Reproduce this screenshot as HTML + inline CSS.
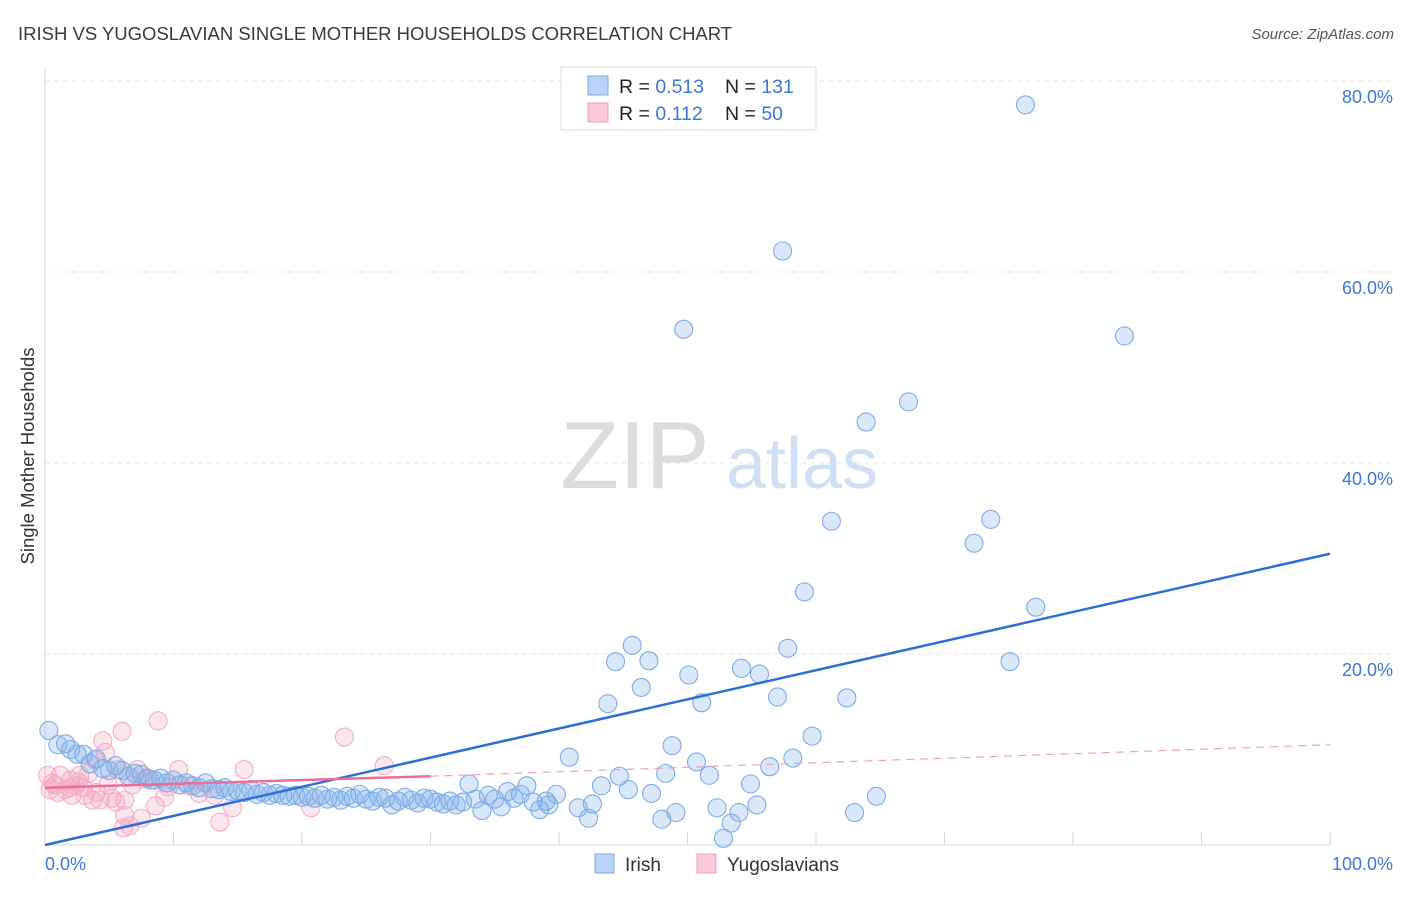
<!DOCTYPE html>
<html><head><meta charset="utf-8"><style>
body{margin:0;background:#fff;font-family:"Liberation Sans",sans-serif;}
svg text{font-family:"Liberation Sans",sans-serif;}
</style></head><body>
<svg width="1406" height="892" xmlns="http://www.w3.org/2000/svg">
<text x="18" y="40" font-size="18.5" fill="#3a3a3a">IRISH VS YUGOSLAVIAN SINGLE MOTHER HOUSEHOLDS CORRELATION CHART</text>
<text x="1394" y="39" font-size="15" fill="#555" text-anchor="end" font-style="italic">Source: ZipAtlas.com</text>
<g id="grid"></g>
<g>
<text x="635" y="488" font-size="96" fill="#dcdcdc" text-anchor="middle" font-family="Liberation Serif">ZIP</text>
<text x="802" y="488" font-size="72" fill="#cfe0f4" text-anchor="middle">atlas</text>
</g>
<g id="pts"></g>
<g id="lines"></g>
<text transform="translate(34,456) rotate(-90)" font-size="18.5" fill="#333" text-anchor="middle">Single Mother Households</text>
<text x="45" y="870" font-size="18" fill="#3b78d8">0.0%</text>
<text x="1393" y="870" font-size="18" fill="#3b78d8" text-anchor="end">100.0%</text>
<g>
<rect x="561" y="67" width="255" height="63" fill="#fff" stroke="#ddd"/>
<rect x="588" y="76" width="20" height="19" fill="#b8d3f5" stroke="#7aa8e0"/>
<rect x="588" y="103" width="20" height="19" fill="#fbc9d8" stroke="#f0a0b8"/>
<text x="619" y="93" font-size="19.5" fill="#222">R = <tspan fill="#3b78d8">0.513</tspan></text>
<text x="725" y="93" font-size="19.5" fill="#222">N = <tspan fill="#3b78d8">131</tspan></text>
<text x="619" y="120" font-size="19.5" fill="#222">R = <tspan fill="#3b78d8"> 0.112</tspan></text>
<text x="725" y="120" font-size="19.5" fill="#222">N = <tspan fill="#3b78d8"> 50</tspan></text>
</g>
<g>
<rect x="595" y="854" width="19" height="19" fill="#b8d3f5" stroke="#7aa8e0"/>
<text x="625" y="871" font-size="19" fill="#333">Irish</text>
<rect x="697" y="854" width="19" height="19" fill="#fbc9d8" stroke="#f0a0b8"/>
<text x="727" y="871" font-size="19" fill="#333">Yugoslavians</text>
</g>
</svg>
<script>
const yTicks=[20,40,60,80];
const yTickLabels=["20.0%","40.0%","60.0%","80.0%"];
const xTicks=[0,10,20,30,40,50,60,70,80,90,100];
const irish=[[76.3,77.5],[57.4,62.2],[49.7,54.0],[84.0,53.3],[67.2,46.4],[63.9,44.3],[61.2,33.9],[73.6,34.1],[72.3,31.6],[59.1,26.5],[77.1,24.9],[45.7,20.9],[44.4,19.2],[47.0,19.3],[57.8,20.6],[75.1,19.2],[54.2,18.5],[50.1,17.8],[55.6,17.9],[46.4,16.5],[57.0,15.5],[62.4,15.4],[43.8,14.8],[51.1,14.9],[59.7,11.4],[48.8,10.4],[40.8,9.2],[58.2,9.1],[50.7,8.7],[56.4,8.2],[48.3,7.5],[51.7,7.3],[44.7,7.2],[54.9,6.4],[43.3,6.2],[45.4,5.8],[64.7,5.1],[47.2,5.4],[52.3,3.9],[55.4,4.2],[54.0,3.4],[49.1,3.4],[63.0,3.4],[48.0,2.7],[53.4,2.3],[52.8,0.7],[42.3,2.8],[41.5,3.9],[42.6,4.3],[39.8,5.3],[39.2,4.2],
[0.3,12],[1,10.5],[1.6,10.6],[2,10],[2.5,9.5],[3,9.5],[3.5,8.5],[4,9],[4.5,8],[5,7.8],[5.5,8.3],[6,7.8],[6.5,7.2],[7,7.5],[7.5,7.4],[8,7],[8.5,6.8],[9,7],[9.5,6.5],[10,6.8],[10.5,6.3],[11,6.5],[11.5,6.2],[12,6],[12.5,6.5],[13,5.9],[13.5,5.8],[14,6],[14.5,5.6],[15,5.7],[15.5,5.5],[16,5.8],[16.5,5.3],[17,5.5],[17.5,5.2],[18,5.4],[18.5,5.2],[19,5.1],[19.5,5.2],[20,5],[20.5,5.1],[21,4.9],[21.5,5.2],[22,4.8],[22.5,5],[23,4.7],[23.5,5.1],[24,4.9],[24.5,5.3],[25,4.8],[25.5,4.6],[26,5],[26.5,4.9],[27,4.2],[27.5,4.6],[28,5],[28.5,4.7],[29,4.4],[29.5,4.9],[30,4.8],[30.5,4.5],[31,4.3],[31.5,4.6],[32,4.2],[32.5,4.5],[33,6.4],[33.5,4.8],[34,3.6],[34.5,5.2],[35,4.8],[35.5,4],[36,5.6],[36.5,4.9],[37,5.3],[37.5,6.2],[38,4.5],[38.5,3.7],[39,4.6]];
const yugo=[[0.2,7.3],[0.4,5.8],[0.8,6.3],[1.2,7.3],[1.6,5.8],[2,6.8],[2.1,5.2],[2.6,6.6],[2.7,7.3],[3.1,5.2],[3.4,7.5],[3.7,4.7],[3.9,8.9],[4.3,4.7],[4.5,10.9],[4.7,9.7],[4.9,6.3],[5.2,4.9],[5.7,7.9],[6,11.9],[6.2,4.7],[6.2,3.1],[6.1,1.8],[6.6,2.0],[6.8,6.3],[7.2,7.9],[7.5,2.8],[8.2,6.8],[8.6,4.1],[8.8,13],[9.3,5.0],[9.6,6.1],[10.4,7.9],[12,5.4],[13.2,5.2],[13.6,2.4],[14.6,3.9],[15.5,7.9],[20.7,3.9],[23.3,11.3],[26.4,8.3],[1.0,5.5],[1.9,6.0],[3.0,6.0],[4.0,5.5],[5.5,4.5],[0.6,6.5],[2.4,6.2],[7.8,6.9],[11.2,6.2]];
const blueTrend=[[0,0],[100,30.5]];
const pinkSolid=[[0,6.0],[30,7.2]];
const pinkDash=[[30,7.2],[100,10.5]];
const X=v=>45+v*12.85, Y=v=>845-v*9.55;
const NS="http://www.w3.org/2000/svg";
function mk(t,a,p){const e=document.createElementNS(NS,t);for(const k in a)e.setAttribute(k,a[k]);p.appendChild(e);return e;}
const grid=document.getElementById('grid');
mk('line',{x1:45,y1:68,x2:45,y2:845,stroke:'#d4d4d4'},grid);
mk('line',{x1:45,y1:845,x2:1330,y2:845,stroke:'#d4d4d4'},grid);
yTicks.forEach((t,i)=>{
  const l=mk('line',{x1:45,y1:Y(t),x2:1395,y2:Y(t),stroke:'#e4e4e4','stroke-dasharray':'5,4'},grid);
  
  
  const tx=mk('text',{x:1393,y:Y(t)+22,'font-size':18,fill:'#3b78d8','text-anchor':'end'},grid);
  tx.textContent=yTickLabels[i];
  
  
});
xTicks.forEach(t=>{
  const l=mk('line',{x1:X(t),y1:832,x2:X(t),y2:845,stroke:'#d4d4d4'},grid);
  
  
});
const pts=document.getElementById('pts');
yugo.forEach(d=>{
  const c=mk('circle',{cx:X(d[0]),cy:Y(d[1]),r:9,fill:'rgba(245,165,190,0.28)',stroke:'#f4aec4','stroke-width':1.1},pts);
  
  
});
irish.forEach(d=>{
  const c=mk('circle',{cx:X(d[0]),cy:Y(d[1]),r:9,fill:'rgba(130,180,235,0.3)',stroke:'#7eabe4','stroke-width':1.1},pts);
  
  
});
const ln=document.getElementById('lines');
let a=mk('line',{x1:X(blueTrend[0][0]),y1:Y(blueTrend[0][1]),x2:X(blueTrend[1][0]),y2:Y(blueTrend[1][1]),stroke:'#2b6fd6','stroke-width':2.5},ln);


a=mk('line',{x1:X(pinkSolid[0][0]),y1:Y(pinkSolid[0][1]),x2:X(pinkSolid[1][0]),y2:Y(pinkSolid[1][1]),stroke:'#ec6f93','stroke-width':2.5},ln);


a=mk('line',{x1:X(pinkDash[0][0]),y1:Y(pinkDash[0][1]),x2:X(pinkDash[1][0]),y2:Y(pinkDash[1][1]),stroke:'#f0a0b8','stroke-width':1.2,'stroke-dasharray':'8,6'},ln);


</script>
</body></html>
